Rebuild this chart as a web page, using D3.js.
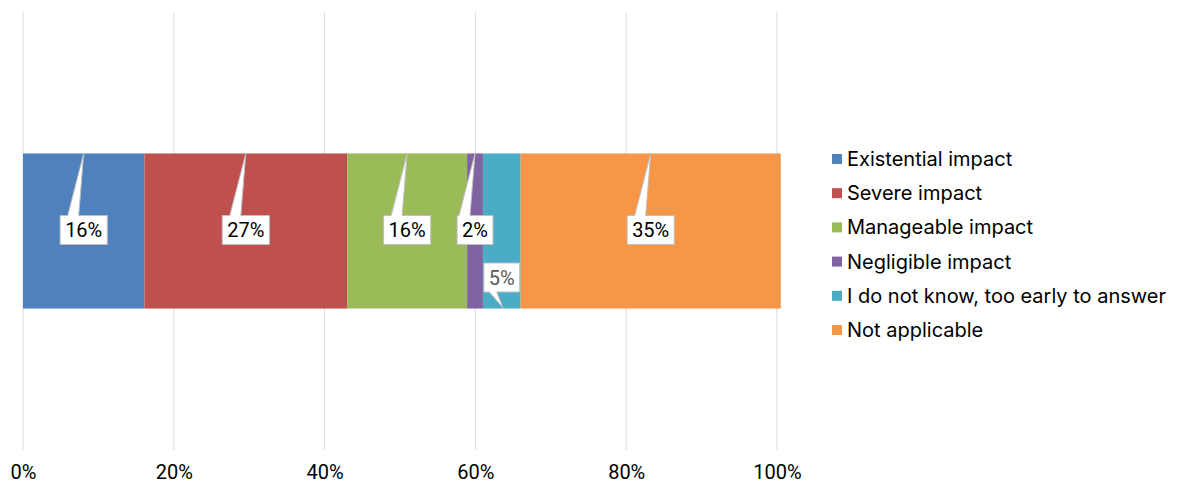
<!DOCTYPE html>
<html>
<head>
<meta charset="utf-8">
<script src="https://cdn.jsdelivr.net/npm/d3@7"></script>
<style>
  html, body { margin: 0; padding: 0; background: #fff; }
  svg { display: block; }
</style>
</head>
<body>
<svg id="chart" width="1179" height="483"></svg>
<script>
// Share of respondents by impact level (single 100% stacked bar)
const categories = [
  "Existential impact",
  "Severe impact",
  "Manageable impact",
  "Negligible impact",
  "I do not know, too early to answer",
  "Not applicable"
];
const values = [16.1, 26.9, 15.9, 2.1, 5.0, 34.5];
const colors = ["#4f81bd", "#c0504d", "#9bbb59", "#8064a2", "#4bacc6", "#f79646"];
// callouts sit above the bar middle, except the small cyan one which hangs below
const calloutSide = ["up", "up", "up", "up", "down", "up"];
const xTicks = [0, 20, 40, 60, 80, 100];

const svg = d3.select("#chart");
const plot = { left: 23, right: 777, top: 12, bottom: 450 };

const x = d3.scaleLinear().domain([0, 100]).range([plot.left, plot.right]);
const y = d3.scaleBand().domain(["all"]).range([plot.top, plot.bottom]).padding(0.477);

// vertical gridlines
svg.append("g")
  .selectAll("line")
  .data(xTicks)
  .join("line")
  .attr("x1", d => x(d)).attr("x2", d => x(d))
  .attr("y1", plot.top).attr("y2", plot.bottom)
  .attr("stroke", "#d9d9d9").attr("stroke-width", 1);

// axis labels
const axis = d3.axisBottom(x).tickValues(xTicks).tickFormat(d => d + "%").tickSize(0).tickPadding(0);
const gAxis = svg.append("g").attr("transform", `translate(0,${plot.bottom})`).call(axis);
gAxis.select(".domain").remove();
gAxis.selectAll("text")
  .attr("dy", null)
  .attr("y", 29)
  .attr("font-family", "Roboto, 'Noto Sans', sans-serif")
  .attr("font-size", 20)
  .attr("fill", "#000");

// stacked segments
let acc = 0;
const segs = values.map((v, i) => {
  const s = { i, v, x0: acc, x1: acc + v };
  acc += v;
  return s;
});

svg.append("g")
  .selectAll("rect")
  .data(segs)
  .join("rect")
  .attr("x", d => x(d.x0))
  .attr("width", d => x(d.x1) - x(d.x0))
  .attr("y", y("all"))
  .attr("height", y.bandwidth())
  .attr("fill", d => colors[d.i]);

// data callouts
const fmt = d3.format(".0f");
const barTop = y("all"), barBot = y("all") + y.bandwidth();
const mid = barTop + y.bandwidth() / 2;
const boxH = 29, padX = 5;

const gLab = svg.append("g");
segs.forEach(d => {
  const cx = (x(d.x0) + x(d.x1)) / 2;
  const g = gLab.append("g");
  const path = g.append("path");
  const t = g.append("text")
    .text(fmt(d.v) + "%")
    .attr("font-family", "Roboto, 'Noto Sans', sans-serif")
    .attr("font-size", 20)
    .attr("text-anchor", "middle")
    .attr("fill", calloutSide[d.i] === "down" ? "#595959" : "#000");
  const tw = t.node().getComputedTextLength();
  const bw = tw + padX * 2;
  const bx0 = cx - bw / 2, bx1 = cx + bw / 2;
  let p;
  if (calloutSide[d.i] === "up") {
    const by0 = mid - boxH / 2 - 1, by1 = by0 + boxH;
    t.attr("x", cx).attr("y", by0 + boxH / 2 + 7);
    p = `M${bx0},${by0} L${cx - 16},${by0} L${cx},${barTop} L${cx - 5},${by0} L${bx1},${by0} L${bx1},${by1} L${bx0},${by1} Z`;
  } else {
    const by0 = mid + 32, by1 = by0 + boxH;
    t.attr("x", cx).attr("y", by0 + boxH / 2 + 7);
    p = `M${bx0},${by0} L${bx1},${by0} L${bx1},${by1} L${cx - 5},${by1} L${cx + 1},${barBot - 1} L${cx - 12.5},${by1} L${bx0},${by1} Z`;
  }
  path.attr("d", p).attr("fill", "#fff").attr("stroke", "#bfbfbf").attr("stroke-width", 1);
});

// legend
const lg = svg.append("g").attr("transform", "translate(832,159)");
const rows = lg.selectAll("g")
  .data(categories)
  .join("g")
  .attr("transform", (d, i) => `translate(0,${i * 34.2})`);
rows.append("rect")
  .attr("x", 0).attr("y", -5).attr("width", 10).attr("height", 10)
  .attr("fill", (d, i) => colors[i]);
rows.append("text")
  .attr("x", 15).attr("y", 7)
  .attr("font-family", "Inter, 'Noto Sans', sans-serif")
  .attr("font-size", 20)
  .attr("fill", "#000")
  .text(d => d);
</script>
</body>
</html>
